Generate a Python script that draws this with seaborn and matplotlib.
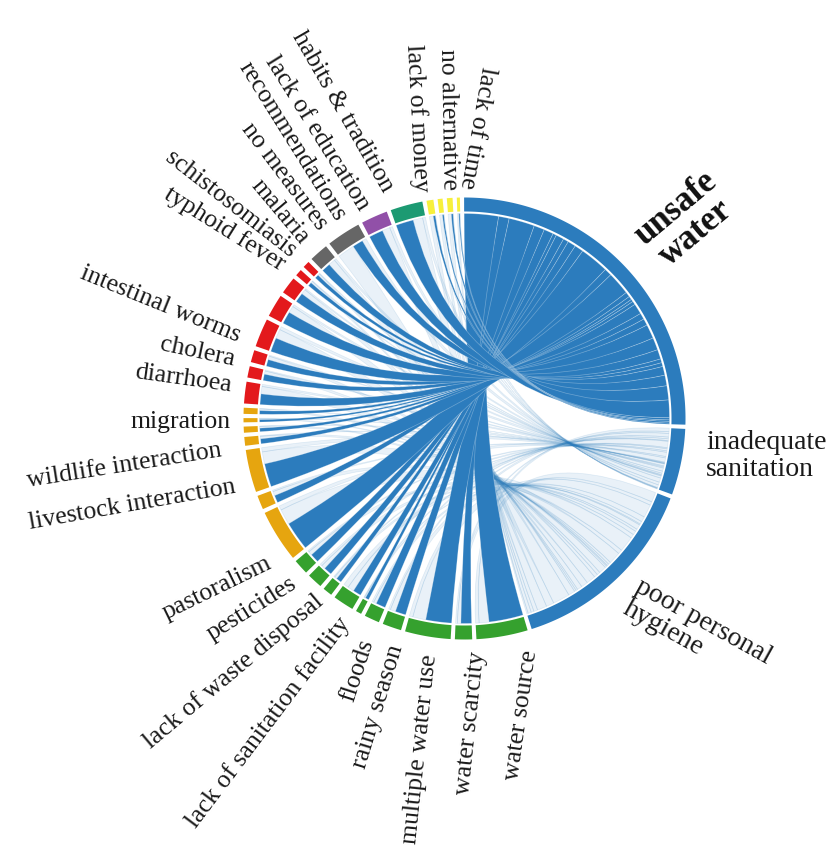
import numpy as np
import matplotlib
matplotlib.use("Agg")
import matplotlib.pyplot as plt
from matplotlib.path import Path
from matplotlib.patches import PathPatch
import seaborn as sns

# outcomes (right side of the wheel), clockwise from the top
outcomes = ["unsafe water", "inadequate sanitation", "poor personal hygiene"]

# contributing factors, clockwise starting just after "poor personal hygiene"
factor_group = [
    "environment", "environment", "environment", "environment", "environment",
    "environment", "environment", "environment", "environment", "environment",
    "animals", "animals", "animals", "animals", "animals", "animals", "animals",
    "disease", "disease", "disease", "disease", "disease", "disease", "disease", "disease",
    "measures", "measures", "education", "tradition",
    "economy", "economy", "economy", "economy",
]
to_unsafe = [9.7, 3, 7.3, 3, 2.7, 1, 2.3, 1.5, 2.3, 2.5,
             8.2, 2.1, 6.6, 1.4, 1, 0.7, 1,
             3, 1.8, 1.9, 4, 3.5, 2.7, 1.1, 1.1,
             2.5, 3, 4, 5,
             0.6, 0.4, 0.5, 0.3]
to_sanitation = [1, 0.5, 1, 0.5, 0.5, 0.2, 1.8, 0.3, 0.6, 0.4,
                 1.2, 0.4, 1.2, 0.2, 0.1, 0.1, 0.1,
                 0.6, 0.3, 0.3, 0.9, 0.6, 0.4, 0.2, 0.2,
                 0.6, 1.2, 0.8, 0.8,
                 0.1, 0.1, 0.1, 0.1]
to_hygiene = [2.8, 1, 3.7, 1.5, 0.8, 0.3, 1.4, 0.7, 1.1, 1.1,
              4.4, 1.2, 3.4, 0.7, 0.5, 0.3, 0.5,
              2.1, 0.9, 1.0, 2.6, 1.9, 1.4, 0.5, 0.5,
              1.9, 4.8, 2.2, 2.7,
              1.1, 0.8, 0.9, 0.4]

group_colors = {
    "environment": "#35a12e", "animals": "#e6a50f", "disease": "#e3191c",
    "measures": "#666666", "education": "#9150a8", "tradition": "#1c9a72",
    "economy": "#f7f03c",
}
BLUE = "#2c7cbd"

# label text, anchor (px), rotation
labels = [
    ("lack of time", 467, 188, -100),
    ("no alternative", 449, 190, -89),
    ("lack of money", 421, 192, -87),
    ("habits & tradition", 388, 190, -60),
    ("lack of education", 364, 209, -58),
    ("recommendations", 341, 219, -58),
    ("no measures", 323, 228, -53),
    ("malaria", 305, 241, -50),
    ("schistosomiasis", 293, 253, -38),
    ("typhoid fever", 283, 266, -32),
    ("intestinal worms", 240, 336, -22),
    ("cholera", 235, 360, -12),
    ("diarrhoea", 232, 386, -8),
    ("migration", 231, 422, 0),
    ("wildlife interaction", 222, 450, 9),
    ("livestock interaction", 235, 487, 10),
    ("pastoralism", 270, 562, 26),
    ("pesticides", 295, 582, 32),
    ("lack of waste disposal", 320, 598, 40),
    ("lack of sanitation facility", 345, 620, 53),
    ("floods", 367, 640, 72),
    ("rainy season", 397, 645, 73),
    ("multiple water use", 430, 655, 84),
    ("water scarcity", 478, 652, 84),
    ("water source", 530, 650, 82),
]

CX, CY = 464.5, 418.5
R_OUT, R_IN, R_RIB = 221, 207, 205
GAP = 1.1
START = -0.1


def pt(theta, r):
    t = np.radians(theta)
    return CX + r * np.sin(t), CY - r * np.cos(t)


def arc_pts(a0, a1, r):
    n = max(3, int(abs(a1 - a0) * 2) + 2)
    return [pt(t, r) for t in np.linspace(a0, a1, n)]


def ring(ax, a0, a1, color):
    poly = arc_pts(a0, a1, R_OUT) + arc_pts(a1, a0, R_IN)
    xs, ys = zip(*poly)
    ax.fill(xs, ys, color=color, lw=0, zorder=3)


def ribbon(ax, s0, s1, t0, t1, face, edge, lw, z):
    c = (CX, CY)
    a = arc_pts(s0, s1, R_RIB)
    b = arc_pts(t0, t1, R_RIB)
    verts = a + [c, b[0]] + b[1:] + [c, a[0]]
    codes = ([Path.MOVETO] + [Path.LINETO] * (len(a) - 1) + [Path.CURVE3] * 2
             + [Path.LINETO] * (len(b) - 1) + [Path.CURVE3] * 2)
    ax.add_patch(PathPatch(Path(verts, codes), facecolor=face, edgecolor=edge, lw=lw, zorder=z))


sns.set_theme(style="white")
plt.rcParams["font.family"] = ["Liberation Serif", "DejaVu Serif"]

links = np.array([to_unsafe, to_sanitation, to_hygiene])  # 3 x nfac
nfac = links.shape[1]
out_tot = links.sum(axis=1)
fac_tot = links.sum(axis=0)
k = (360 - (3 + nfac) * GAP) / (out_tot.sum() + fac_tot.sum())

spans = []
ang = START
for v in list(out_tot) + list(fac_tot):
    spans.append((ang, ang + v * k))
    ang += v * k + GAP

# sub-arcs inside each factor (largest link first)
fac_sub = {}
for i in range(nfac):
    a = spans[3 + i][0]
    for j in sorted(range(3), key=lambda j: -links[j, i]):
        w = links[j, i] * k
        fac_sub[(j, i)] = (a, a + w)
        a += w
# sub-arcs inside each outcome (factors in wheel order)
out_sub = {}
for j in range(3):
    a = spans[j][0]
    for i in range(nfac):
        w = links[j, i] * k
        out_sub[(j, i)] = (a, a + w)
        a += w

fig = plt.figure(figsize=(8.29, 8.56), dpi=100)
ax = fig.add_axes([0, 0, 1, 1])
ax.set_xlim(0, 829)
ax.set_ylim(856, 0)
ax.axis("off")

light_face = (0.17, 0.49, 0.74, 0.1)
light_edge = (0.17, 0.49, 0.74, 0.13)
for j in (2, 1):
    for i in range(nfac):
        ribbon(ax, *fac_sub[(j, i)], *out_sub[(j, i)], light_face, light_edge, 0.5, 1)
for i in range(nfac):
    ribbon(ax, *fac_sub[(0, i)], *out_sub[(0, i)], BLUE, (1, 1, 1, 0.3), 0.5, 2)

for j in range(3):
    ring(ax, *spans[j], BLUE)
for i in range(nfac):
    ring(ax, *spans[3 + i], group_colors[factor_group[i]])

for txt, x, y, rot in labels:
    ax.text(x, y, txt, rotation=rot, rotation_mode="anchor", ha="right", va="center",
            fontsize=18.5, color="#1a1a1a")

ax.text(686, 221, "unsafe\nwater", rotation=40, rotation_mode="anchor", ha="center",
        va="center", fontsize=25, fontweight="bold", color="#111111", linespacing=0.95)
ax.text(706, 456, "inadequate\nsanitation", ha="left", va="center", fontsize=20,
        color="#1a1a1a", linespacing=1.1)
ax.text(643, 574, "poor personal\nhygiene", rotation=-29, rotation_mode="anchor",
        ha="left", va="top", fontsize=20, color="#1a1a1a", linespacing=1.0)

fig.savefig("out.png", dpi=100, facecolor="white")
